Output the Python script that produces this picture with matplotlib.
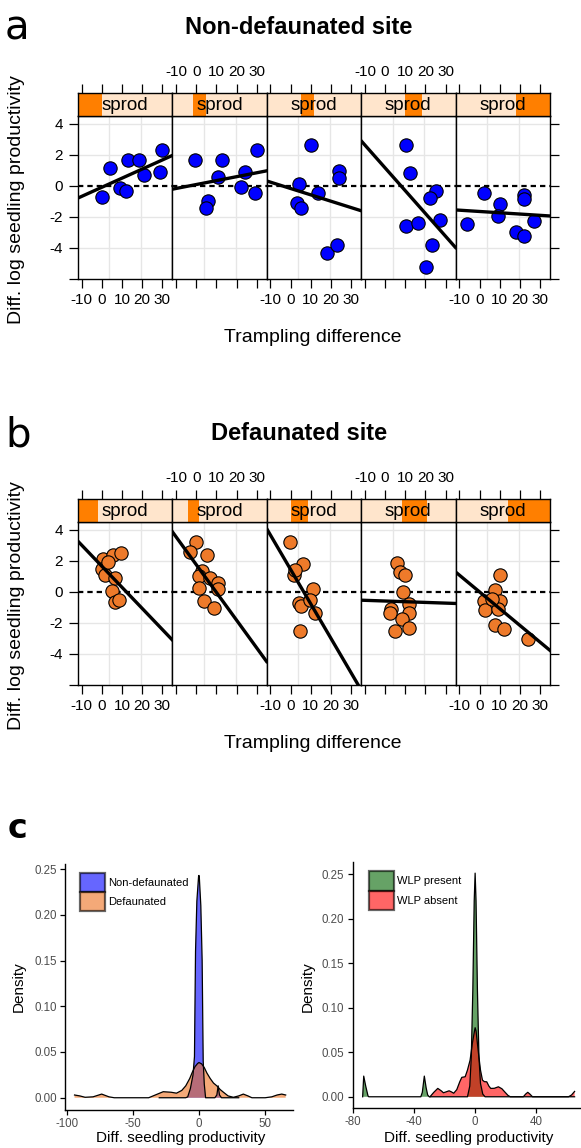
import matplotlib
matplotlib.use("Agg")
import matplotlib.pyplot as plt
from matplotlib.patches import Rectangle, Patch

plt.rcParams['font.family'] = ['Liberation Sans', 'DejaVu Sans']
plt.rcParams['axes.unicode_minus'] = False

W, H = 581, 1148
fig = plt.figure(figsize=(W / 100, H / 100), dpi=100)


def px_axes(x0, y0, x1, y1):
    # axes from pixel box (top-left origin)
    return fig.add_axes([x0 / W, 1 - y1 / H, (x1 - x0) / W, (y1 - y0) / H])


# ---- panel a: non-defaunated site (trampling difference vs diff. log productivity)
a_x = [
    [0, 4.1, 9.1, 12.0, 12.9, 18.5, 20.9, 28.9, 29.9],
    [-0.6, 5.9, 5.1, 10.9, 12.9, 22.0, 24.1, 29.0, 29.9],
    [4.1, 3.0, 5.1, 10.0, 13.4, 18.1, 23.1, 24.0, 24.0],
    [10.2, 12.3, 25.0, 22.2, 10.2, 16.1, 27.2, 23.1, 20.1],
    [-6.3, 2.4, 10.1, 9.3, 18.1, 22.2, 22.2, 22.2, 27.1],
]
a_y = [
    [-0.73, 1.18, -0.15, -0.32, 1.68, 1.68, 0.71, 0.88, 2.32],
    [1.68, -0.95, -1.4, 0.6, 1.68, -0.1, 0.88, -0.43, 2.32],
    [0.13, -1.12, -1.4, 2.65, -0.43, -4.3, -3.8, 0.93, 0.5],
    [2.65, 0.82, -0.32, -0.8, -2.6, -2.4, -2.2, -3.8, -5.25],
    [-2.45, -0.47, -1.16, -1.94, -3.0, -3.23, -0.58, -0.86, -2.24],
]
a_slope = [0.0587, 0.0253, -0.041, -0.147, -0.0083]
a_int = [-0.095, 0.084, -0.17, 1.16, -1.65]
a_sh_lo = [0.0, 0.22, 0.36, 0.47, 0.64]
a_sh_hi = [0.26, 0.36, 0.50, 0.65, 1.0]

# ---- panel b: defaunated site
b_x = [
    [0.5, 5.4, 9.6, 0.3, 1.6, 6.8, 4.9, 6.6, 8.6, 3.3],
    [-0.15, -3.1, 5.6, 2.7, 1.3, 6.8, 10.9, 10.6, 1.5, 3.8, 8.7],
    [-0.2, 5.9, 1.8, 2.3, 10.9, 4.0, 5.3, 9.8, 11.9, 4.7],
    [5.9, 7.5, 10.0, 8.9, 11.7, 3.1, 2.6, 11.7, 8.4, 4.8, 11.7],
    [10.0, 7.8, 2.1, 10.3, 2.6, 9.0, 7.8, 12.3, 23.9, 6.2],
]
b_y = [
    [2.1, 2.37, 2.5, 1.5, 1.1, 0.88, 0.06, -0.65, -0.54, 1.9],
    [3.23, 2.58, 2.39, 1.35, 1.03, 0.92, 0.6, 0.17, 0.24, -0.62, -1.01],
    [3.18, 1.78, 1.1, 1.4, 0.17, -0.69, -0.9, -0.54, -1.33, -2.52],
    [1.83, 1.31, 1.1, 0.02, -0.75, -1.12, -1.33, -1.38, -1.72, -2.52, -2.34],
    [1.1, 0.13, -0.58, -0.58, -1.18, -1.12, -2.15, -2.37, -3.05, -0.47],
]
b_slope = [-0.136, -0.179, -0.222, -0.0045, -0.108]
b_int = [1.66, 1.76, 1.44, -0.59, 0.0]
b_sh_lo = [0.0, 0.17, 0.26, 0.43, 0.56]
b_sh_hi = [0.21, 0.28, 0.44, 0.70, 1.0]

x_ticks = [-10, 0, 10, 20, 30]
y_ticks = [-6, -4, -2, 0, 2, 4]
y_ticklabels = ['', '-4', '-2', '0', '2', '4']
grid_x = [3.7, 19.5]
grid_y = [-4, -2, 2, 4]

# ---- panel c: density curves (vertices)
nd_x = [-30, -10, -8.5, -6.5, -4.5, -3.4, -3.1, -2.6, -1.6, -0.3, 0, 0.3, 1.4, 2.4, 2.9,
        3.2, 4.0, 5.0, 12, 13.5, 14.5, 15.5, 17, 30]
nd_y = [0, 0, 0.001, 0.01, 0.025, 0.045, 0.09, 0.16, 0.215, 0.242, 0.243, 0.24, 0.21, 0.15, 0.08,
        0.04, 0.015, 0.0, 0, 0.003, 0.013, 0.003, 0, 0]
df_x = [-94, -90, -86, -80, -73.5, -68, -64, -38, -33, -27, -21, -17, -13, -10, -7, -5, -3, -1,
        0, 2, 4, 6, 8.5, 11, 13.5, 16, 18.5, 22, 26, 30, 33.5, 37, 40, 50, 55, 59, 62.5, 65.5]
df_y = [0.003, 0.002, 0.0005, 0.001, 0.004, 0.001, 0, 0, 0.003, 0.0066, 0.006, 0.005, 0.008,
        0.013, 0.021, 0.028, 0.034, 0.0375, 0.0385, 0.037, 0.033, 0.027, 0.021, 0.016, 0.013,
        0.009, 0.006, 0.002, 0.0005, 0.002, 0.004, 0.002, 0, 0, 0.001, 0.003, 0.004, 0.003]
wp_x = [-73.5, -72.8, -71.5, -70, -69.5, -35.5, -34.5, -33.2, -32, -31, -30, -5, -3.5, -2.5,
        -1.5, -0.6, 0, 0.6, 1.5, 2.5, 3.5, 5, 6.5, 65]
wp_y = [0, 0.0232, 0.012, 0.001, 0, 0, 0.005, 0.0232, 0.01, 0.002, 0, 0, 0.012, 0.045,
        0.12, 0.22, 0.251, 0.22, 0.12, 0.045, 0.015, 0.003, 0, 0]
wa_x = [-29.5, -27, -24.4, -22, -20.7, -19, -17, -15.5, -14, -12, -10, -8.7, -6.5, -5, -3.3,
        -1.8, -0.4, 0, 0.6, 2.2, 3.5, 4.8, 6, 7.6, 9, 10.2, 12.5, 15.2, 17.5, 19.6, 21.5, 23,
        31.5, 33, 34.4, 35.8, 37.5, 61, 63, 64.5, 65]
wa_y = [0, 0.005, 0.0094, 0.0065, 0.0045, 0.0055, 0.0067, 0.0055, 0.004, 0.008, 0.017, 0.0218,
        0.0225, 0.03, 0.041, 0.06, 0.074, 0.0775, 0.074, 0.0487, 0.03, 0.0187, 0.017, 0.0168,
        0.012, 0.0094, 0.0095, 0.0112, 0.009, 0.005, 0.0015, 0, 0, 0.003, 0.005, 0.003, 0, 0,
        0.002, 0.005, 0.006]


def draw_site(top, xs, ys, slopes, ints, sh_lo, sh_hi, col, title, letter):
    strip_h, panel_h = 23, 163
    left0, pw = 77.7, 94.45
    for k in range(5):
        x0 = left0 + k * pw
        ax = px_axes(x0, top + strip_h, x0 + pw, top + strip_h + panel_h)
        st = px_axes(x0, top, x0 + pw, top + strip_h)
        for a in (ax, st):
            a.set_xlim(-11.9, 34.9)
            for s in a.spines.values():
                s.set_linewidth(1.0)
        ax.set_ylim(-6.0, 4.5)

        for g in grid_x:
            ax.axvline(g, color='#E6E6E6', lw=1, zorder=0)
        for g in grid_y:
            ax.axhline(g, color='#E6E6E6', lw=1, zorder=0)
        ax.axhline(0, color='black', lw=1.6, ls=(0, (2.4, 1.8)), zorder=2)
        ax.scatter(xs[k], ys[k], s=92, c=col, edgecolors='black', linewidths=0.8, zorder=3)
        ax.axline((0, ints[k]), slope=slopes[k], color='black', lw=2.4, zorder=4)

        ax.set_xticks(x_ticks)
        ax.tick_params(axis='x', direction='out', length=6.8, width=0.9, labelsize=11,
                       pad=3, labelbottom=(k % 2 == 0))
        ax.set_yticks(y_ticks, y_ticklabels)
        if k == 0:
            ax.tick_params(axis='y', direction='out', length=6.8, width=0.9, labelsize=11, pad=4)
        elif k == 4:
            ax.tick_params(axis='y', direction='out', length=6.8, width=0.9, left=False,
                           labelleft=False, right=True)
        else:
            ax.tick_params(axis='y', left=False, labelleft=False)

        # strip with shingle bar
        st.set_facecolor('#FFE5CC')
        st.add_patch(Rectangle((sh_lo[k], 0), sh_hi[k] - sh_lo[k], 1, transform=st.transAxes,
                               fc='#FF7F00', ec='none'))
        st.text(0.5, 0.47, 'sprod', transform=st.transAxes, ha='center', va='center', fontsize=13.5)
        st.set_yticks([])
        st.set_xticks(x_ticks)
        st.xaxis.tick_top()
        st.tick_params(axis='x', direction='out', length=6.8, width=0.9, labelsize=11, pad=3,
                       labeltop=(k % 2 == 1), bottom=False, labelbottom=False)

    fig.text(299 / W, 1 - (top - 65) / H, title, ha='center', va='center', fontsize=17,
             fontweight='bold')
    fig.text(5 / W, 1 - (top - 64) / H, letter, ha='left', va='center', fontsize=29,
             family='DejaVu Sans')
    fig.text(17 / W, 1 - (top + 107) / H, 'Diff. log seedling productivity', rotation=90,
             ha='center', va='center', fontsize=14)
    fig.text(313 / W, 1 - (top + 244) / H, 'Trampling difference', ha='center', va='center',
             fontsize=14)


draw_site(93, a_x, a_y, a_slope, a_int, a_sh_lo, a_sh_hi, '#0000FF', 'Non-defaunated site', 'a')
draw_site(499, b_x, b_y, b_slope, b_int, b_sh_lo, b_sh_hi, '#EE7A2A', 'Defaunated site', 'b')

# ---- panel c
fig.text(8 / W, 1 - 828 / H, 'c', ha='left', va='center', fontsize=24, fontweight='bold',
         family='DejaVu Sans')

grey30 = '#4D4D4D'


def density_axes(ax, curves, xlim, ylim, xticks, legend_xy):
    handles = []
    for xv, yv, colr, lab in curves:
        ax.fill_between(xv, 0, yv, facecolor=colr, alpha=0.6, lw=0, zorder=2)
        ax.plot(xv, yv, color='black', lw=0.9, zorder=3)
        handles.append(Patch(facecolor=colr, alpha=0.6, edgecolor='black', linewidth=1.6, label=lab))
    ax.set_xlim(*xlim)
    ax.set_ylim(*ylim)
    ax.set_xticks(xticks)
    ax.set_yticks([0, 0.05, 0.10, 0.15, 0.20, 0.25],
                  ['0.00', '0.05', '0.10', '0.15', '0.20', '0.25'])
    for s in ('top', 'right'):
        ax.spines[s].set_visible(False)
    for s in ('left', 'bottom'):
        ax.spines[s].set_linewidth(1.0)
    ax.tick_params(length=3.8, width=0.9, labelsize=8.3, labelcolor=grey30, pad=2.2)
    leg = ax.legend(handles=handles, loc='upper left', bbox_to_anchor=legend_xy, frameon=False,
                    fontsize=8, handlelength=2.25, handleheight=2.3, labelspacing=0,
                    handletextpad=0.25, borderpad=0, borderaxespad=0)
    return leg


axl = px_axes(65, 864, 292.7, 1110)
density_axes(axl, [(nd_x, nd_y, '#0000FF', 'Non-defaunated'),
                   (df_x, df_y, '#ED711E', 'Defaunated')],
             (-101.2, 70.8), (-0.0134, 0.2555), [-100, -50, 0, 50], (0.066, 0.965))

axr = px_axes(352.7, 862, 585, 1108)
density_axes(axr, [(wp_x, wp_y, '#006400', 'WLP present'),
                   (wa_x, wa_y, '#FF0000', 'WLP absent')],
             (-79.8, 71.8), (-0.0126, 0.2635), [-80, -40, 0, 40], (0.07, 0.962))

for xc, yc in ((18.5, 987), (308, 987)):
    fig.text(xc / W, 1 - yc / H, 'Density', rotation=90, ha='center', va='center', fontsize=11)
for xc in (181, 469):
    fig.text(xc / W, 1 - 1138 / H, 'Diff. seedling productivity', ha='center', va='center',
             fontsize=11)

fig.savefig('out.png', dpi=100)
